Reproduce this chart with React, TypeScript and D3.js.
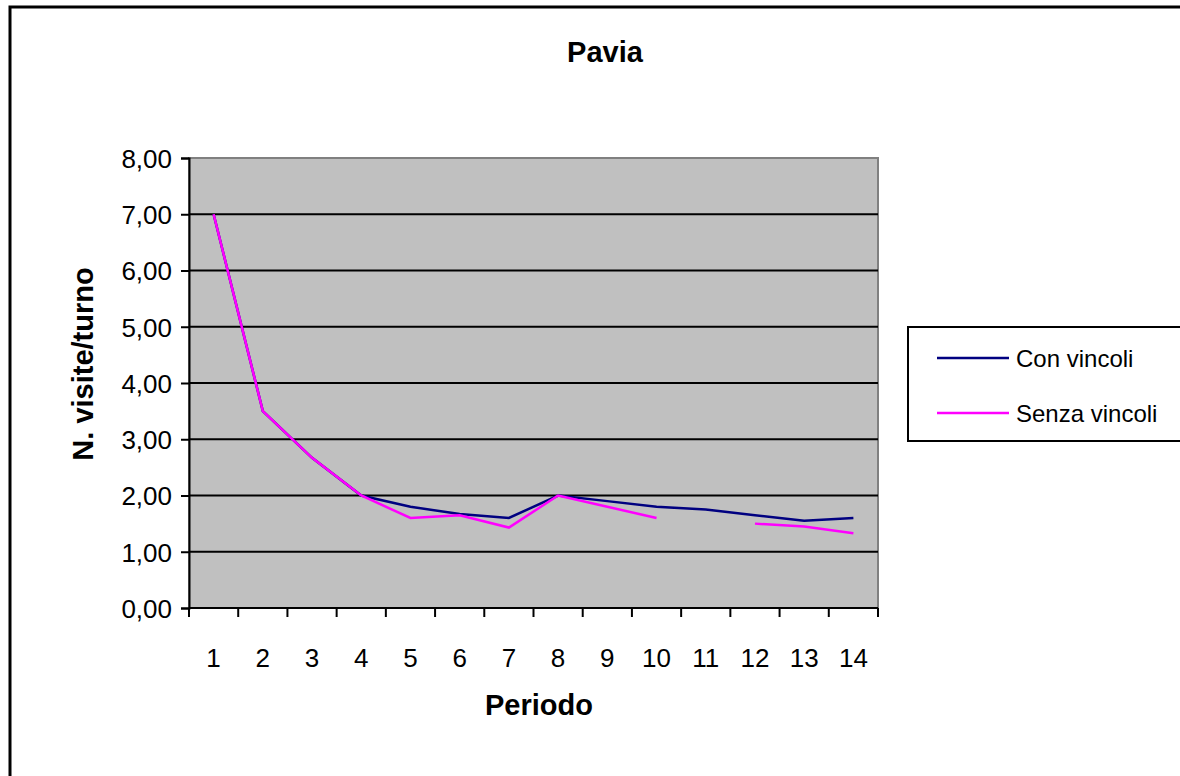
import React, { useEffect, useRef } from "react";
import * as d3 from "d3";

const periods = ["1", "2", "3", "4", "5", "6", "7", "8", "9", "10", "11", "12", "13", "14"];
const conVincoli = [7.0, 3.5, 2.67, 2.0, 1.8, 1.67, 1.6, 2.0, 1.9, 1.8, 1.75, 1.65, 1.55, 1.6];
const senzaVincoli: (number | null)[] = [7.0, 3.5, 2.67, 2.0, 1.6, 1.65, 1.43, 2.0, 1.8, 1.6, null, 1.5, 1.45, 1.33];
const yTicks = [0, 1, 2, 3, 4, 5, 6, 7, 8];

const App: React.FC = () => {
  const svgRef = useRef<SVGSVGElement>(null);

  useEffect(() => {
    const svg = d3.select(svgRef.current);
    svg.selectAll("*").remove();
    const font = "'Liberation Sans', Arial, sans-serif";
    const plot = { left: 189, right: 878, top: 158, bottom: 608 };

    // outer chart border
    svg
      .append("rect")
      .attr("x", 10)
      .attr("y", 7)
      .attr("width", 1180)
      .attr("height", 790)
      .attr("fill", "white")
      .attr("stroke", "black")
      .attr("stroke-width", 3);

    const x = d3.scaleBand().domain(periods).range([plot.left, plot.right]);
    const y = d3.scaleLinear().domain([0, 8]).range([plot.bottom, plot.top]);

    // plot area
    svg
      .append("rect")
      .attr("x", plot.left)
      .attr("y", plot.top)
      .attr("width", plot.right - plot.left)
      .attr("height", plot.bottom - plot.top)
      .attr("fill", "#c0c0c0")
      .attr("stroke", "#808080")
      .attr("stroke-width", 2);

    // gridlines
    svg
      .append("g")
      .selectAll("line")
      .data(yTicks.filter((d) => d > 0 && d < 8))
      .join("line")
      .attr("x1", plot.left)
      .attr("x2", plot.right)
      .attr("y1", (d) => y(d))
      .attr("y2", (d) => y(d))
      .attr("stroke", "black")
      .attr("stroke-width", 2);

    // y axis
    const yAxis = svg
      .append("g")
      .attr("transform", `translate(${plot.left},0)`)
      .call(
        d3
          .axisLeft(y)
          .tickValues(yTicks)
          .tickSize(8)
          .tickPadding(9)
          .tickFormat((d) => d3.format(".2f")(d as number).replace(".", ","))
      );
    yAxis.select(".domain").attr("stroke", "black").attr("stroke-width", 2);
    yAxis.selectAll(".tick line").attr("stroke", "black").attr("stroke-width", 2);
    yAxis
      .selectAll(".tick text")
      .attr("font-family", font)
      .attr("font-size", 26)
      .attr("dy", "0.36em")
      .attr("fill", "black");

    // x axis: ticks at band edges
    const xAxis = svg.append("g").attr("transform", `translate(0,${plot.bottom})`);
    xAxis
      .append("line")
      .attr("x1", plot.left)
      .attr("x2", plot.right)
      .attr("stroke", "black")
      .attr("stroke-width", 2);
    xAxis
      .selectAll("line.tk")
      .data([...periods.map((p) => x(p)!), plot.right])
      .join("line")
      .attr("class", "tk")
      .attr("x1", (d) => d)
      .attr("x2", (d) => d)
      .attr("y1", 0)
      .attr("y2", 9)
      .attr("stroke", "black")
      .attr("stroke-width", 2);
    xAxis
      .selectAll("text")
      .data(periods)
      .join("text")
      .attr("x", (d) => x(d)! + x.bandwidth() / 2)
      .attr("y", 59)
      .attr("text-anchor", "middle")
      .attr("font-family", font)
      .attr("font-size", 26)
      .text((d) => d);

    // lines
    const line = d3
      .line<number | null>()
      .defined((d) => d !== null)
      .x((d, i) => x(periods[i])! + x.bandwidth() / 2)
      .y((d) => y(d as number));

    svg
      .append("path")
      .datum(conVincoli)
      .attr("fill", "none")
      .attr("stroke", "#000080")
      .attr("stroke-width", 2.5)
      .attr("d", line);

    svg
      .append("path")
      .datum(senzaVincoli)
      .attr("fill", "none")
      .attr("stroke", "#ff00ff")
      .attr("stroke-width", 2.5)
      .attr("d", line);

    // title
    svg
      .append("text")
      .attr("x", 605)
      .attr("y", 62)
      .attr("text-anchor", "middle")
      .attr("font-family", font)
      .attr("font-size", 29)
      .attr("font-weight", "bold")
      .text("Pavia");

    // axis titles
    svg
      .append("text")
      .attr("x", 539)
      .attr("y", 715)
      .attr("text-anchor", "middle")
      .attr("font-family", font)
      .attr("font-size", 29)
      .attr("font-weight", "bold")
      .text("Periodo");

    svg
      .append("text")
      .attr("transform", `translate(93,${(plot.top + plot.bottom) / 2 - 19}) rotate(-90)`)
      .attr("text-anchor", "middle")
      .attr("font-family", font)
      .attr("font-size", 29)
      .attr("font-weight", "bold")
      .text("N. visite/turno");

    // legend
    const legend = svg.append("g");
    legend
      .append("rect")
      .attr("x", 908)
      .attr("y", 327)
      .attr("width", 280)
      .attr("height", 114)
      .attr("fill", "white")
      .attr("stroke", "black")
      .attr("stroke-width", 2);
    const items = [
      { name: "Con vincoli", color: "#000080" },
      { name: "Senza vincoli", color: "#ff00ff" },
    ];
    items.forEach((it, i) => {
      const cy = 358 + i * 55;
      legend
        .append("line")
        .attr("x1", 937)
        .attr("x2", 1009)
        .attr("y1", cy)
        .attr("y2", cy)
        .attr("stroke", it.color)
        .attr("stroke-width", 2.5);
      legend
        .append("text")
        .attr("x", 1016)
        .attr("y", cy + 9)
        .attr("font-family", font)
        .attr("font-size", 24)
        .text(it.name);
    });
  }, []);

  return (
    <div style={{ position: "absolute", left: 0, top: 0 }}>
      <svg ref={svgRef} width={1180} height={776} style={{ display: "block" }}></svg>
    </div>
  );
};

export default App;
